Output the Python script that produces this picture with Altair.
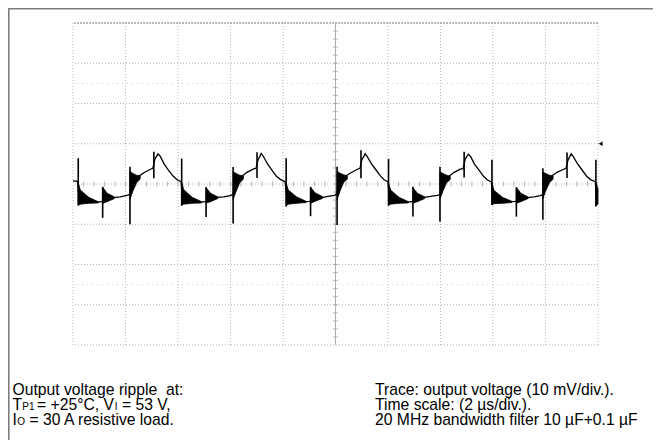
import altair as alt
import pandas as pd

# ---------------- data (time in µs, voltage in mV) ----------------
trace_t = [0.00, 0.10, 0.18,
           0.22, 0.50, 0.75, 0.90, 1.10, 1.30, 1.55, 1.80, 2.05, 2.16, 2.20, 2.35, 2.50, 2.70, 2.93, 3.04, 3.12, 3.24, 3.32, 3.47, 3.64, 3.82, 3.98, 4.12,
           4.16, 4.44, 4.69, 4.84, 5.04, 5.24, 5.49, 5.74, 5.99, 6.09, 6.13, 6.28, 6.43, 6.63, 6.86, 6.97, 7.05, 7.17, 7.25, 7.40, 7.57, 7.75, 7.91, 8.08,
           8.14, 8.42, 8.67, 8.82, 9.02, 9.22, 9.47, 9.72, 9.95, 10.05, 10.09, 10.24, 10.39, 10.59, 10.82, 10.93, 11.01, 11.13, 11.21, 11.36, 11.53, 11.71, 11.86, 12.00,
           12.04, 12.32, 12.57, 12.72, 12.92, 13.12, 13.37, 13.62, 13.88, 13.98, 14.02, 14.17, 14.32, 14.52, 14.75, 14.86, 14.94, 15.06, 15.14, 15.29, 15.46, 15.64, 15.79, 15.94,
           15.98, 16.26, 16.51, 16.66, 16.86, 17.06, 17.31, 17.56, 17.80, 17.90, 17.94, 18.09, 18.24, 18.44, 18.67, 18.78, 18.86, 18.98, 19.06, 19.21, 19.38, 19.56, 19.71, 19.90,
           19.94, 20.00]
trace_v = [0.8, 0.7, 0.6,
           -3.0, -3.6, -4.2, -4.5, -4.4, -3.6, -3.4, -3.2, -2.8, -2.6, -1.5, 1.2, 1.9, 2.8, 3.6, 3.9, 6.2, 7.5, 6.9, 5.0, 3.4, 1.9, 1.0, 0.6,
           -3.0, -3.7, -4.1, -4.5, -4.4, -3.5, -3.3, -3.2, -2.9, -2.6, -1.6, 1.1, 1.9, 2.9, 3.7, 3.9, 6.0, 7.6, 6.9, 5.1, 3.5, 1.9, 1.1, 0.6,
           -3.1, -3.6, -4.2, -4.4, -4.3, -3.6, -3.4, -3.1, -2.8, -2.5, -1.4, 1.2, 2.0, 2.8, 3.6, 3.9, 6.1, 7.5, 6.8, 5.1, 3.6, 2.0, 1.0, 0.6,
           -3.0, -3.7, -4.2, -4.5, -4.4, -3.5, -3.3, -3.1, -2.8, -2.6, -1.5, 1.1, 1.9, 2.9, 3.7, 3.8, 6.2, 7.4, 6.9, 5.0, 3.5, 1.9, 1.0, 0.5,
           -3.1, -3.6, -4.1, -4.4, -4.3, -3.6, -3.4, -3.2, -2.9, -2.6, -1.5, 1.2, 2.0, 2.9, 3.6, 3.9, 6.0, 7.5, 6.8, 5.1, 3.6, 2.0, 1.1, 0.6,
           -3.0, -3.2]

# switching spikes: time, lowest and highest excursion
spike_t = [0.20, 1.13, 2.17, 3.08, 4.14, 5.07, 6.10, 7.01, 8.12, 9.05, 10.06, 10.97,
           12.02, 12.95, 13.98, 14.90, 15.96, 16.89, 17.90, 18.82, 19.92]
spike_lo = [-5.3, -8.4, -10.0, 1.4, -5.4, -8.2, -9.8, 1.5, -5.6, -8.0, -10.2, 1.4,
            -5.4, -8.1, -9.4, 1.6, -5.2, -8.1, -8.9, 1.5, -5.6]
spike_hi = [6.4, -0.7, 4.3, 8.0, 6.3, -0.8, 4.2, 7.9, 6.4, -0.7, 4.3, 8.4,
            6.2, -0.7, 4.3, 8.0, 6.0, -0.8, 3.9, 7.8, 6.0]

# ringing bursts (filled envelopes)
burst_id = [1, 1, 1, 1, 2, 2, 2, 3, 3, 3, 3,
            4, 4, 4, 4, 5, 5, 5, 6, 6, 6, 6,
            7, 7, 7, 7, 8, 8, 8, 9, 9, 9, 9,
            10, 10, 10, 10, 11, 11, 11, 12, 12, 12, 12,
            13, 13, 13, 13, 14, 14, 14, 15, 15, 15, 15,
            16, 16]
burst_t = [0.20, 0.28, 0.60, 0.96, 1.13, 1.30, 1.58, 2.17, 2.28, 2.42, 2.56,
           4.14, 4.22, 4.54, 4.90, 5.07, 5.24, 5.52, 6.10, 6.21, 6.35, 6.49,
           8.12, 8.20, 8.52, 8.88, 9.05, 9.22, 9.50, 10.06, 10.17, 10.31, 10.45,
           12.02, 12.10, 12.42, 12.78, 12.95, 13.12, 13.40, 13.98, 14.09, 14.23, 14.37,
           15.96, 16.04, 16.36, 16.72, 16.89, 17.06, 17.34, 17.90, 18.01, 18.15, 18.29,
           19.92, 20.00]
burst_lo = [-5.3, -5.0, -4.8, -4.7, -4.8, -4.4, -3.6, -3.8, -1.8, 0.3, 1.2,
            -5.2, -5.0, -4.8, -4.7, -4.7, -4.4, -3.6, -3.8, -1.9, 0.3, 1.2,
            -5.4, -5.0, -4.8, -4.6, -4.8, -4.3, -3.6, -3.9, -1.8, 0.4, 1.2,
            -5.2, -5.0, -4.8, -4.7, -4.7, -4.4, -3.6, -3.7, -1.8, 0.3, 1.1,
            -5.2, -4.9, -4.8, -4.6, -4.8, -4.4, -3.6, -3.6, -1.7, 0.3, 1.2,
            -5.4, -5.0]
burst_hi = [0.3, -1.5, -3.3, -4.4, -0.8, -2.3, -3.2, 3.2, 2.6, 2.2, 2.0,
            0.4, -1.4, -3.3, -4.4, -0.9, -2.3, -3.2, 3.1, 2.6, 2.2, 2.0,
            0.3, -1.5, -3.2, -4.3, -0.8, -2.2, -3.1, 3.2, 2.7, 2.3, 2.0,
            0.3, -1.5, -3.3, -4.4, -0.9, -2.3, -3.2, 3.1, 2.6, 2.2, 1.9,
            0.2, -1.6, -3.3, -4.3, -0.8, -2.3, -3.2, 3.0, 2.6, 2.2, 2.0,
            0.4, -1.2]

# graticule: 10 x 2 µs, 8 x 10 mV
grid_t = [0, 2, 4, 6, 8, 10, 12, 14, 16, 18, 20]
grid_v = [-40, -30, -20, -10, 0, 10, 20, 30, 40]
marker_v = [-25, 25]
trigger_level = [10]

caption_left = ["Output voltage ripple\u00a0 at:"]
caption_right = ["Trace: output voltage (10 mV/div.).",
                 "Time scale: (2 µs/div.).",
                 "20 MHz bandwidth filter 10 µF+0.1 µF"]

# ---------------- chart ----------------
XS = alt.Scale(domain=[0, 20], nice=False, zero=False)
YS = alt.Scale(domain=[-40, 40], nice=False, zero=False)
FONT = "Liberation Sans"
FS = 15.7
SUB = 10

def X(f="t"):
    return alt.X(f"{f}:Q", scale=XS, axis=None)

def Y(f="v"):
    return alt.Y(f"{f}:Q", scale=YS, axis=None)

one = alt.Data(values=[{}])

vgrid = alt.Chart(pd.DataFrame({"t": grid_t})).mark_rule(
    color="#b5b5b5", strokeWidth=1, strokeDash=[1, 2]).encode(x=X())
hgrid = alt.Chart(pd.DataFrame({"v": grid_v})).mark_rule(
    color="#b5b5b5", strokeWidth=1, strokeDash=[1, 2]).encode(y=Y())
topline = alt.Chart(pd.DataFrame({"v": [grid_v[-1]]})).mark_rule(
    color="#8a8a8a", strokeWidth=1.2, strokeDash=[2, 1]).encode(y=Y())
centerv = alt.Chart(pd.DataFrame({"t": [grid_t[5]]})).mark_rule(
    color="#b0b0b0", strokeWidth=1).encode(x=X())
markers = alt.Chart(pd.DataFrame({"v": marker_v})).mark_rule(
    color="#d0d0d0", strokeWidth=1, strokeDash=[1, 4]).encode(y=Y())

tick_x = pd.DataFrame({"t": [i * 0.4 for i in range(1, 50)]})
minor_x = alt.Chart(tick_x).mark_tick(
    color="#a0a0a0", orient="vertical", size=5, thickness=1).encode(x=X(), y=alt.value(161))
tick_y = pd.DataFrame({"v": [j * 2 for j in range(-19, 20)]})
minor_y = alt.Chart(tick_y).mark_tick(
    color="#a0a0a0", orient="horizontal", size=5, thickness=1).encode(y=Y(), x=alt.value(262.5))

bursts = alt.Chart(pd.DataFrame({"id": burst_id, "t": burst_t, "lo": burst_lo, "hi": burst_hi})).mark_area(
    color="black", opacity=1, stroke="black", strokeWidth=0.8).encode(
    x=X(), y=Y("lo"), y2="hi:Q", detail="id:N")
spikes = alt.Chart(pd.DataFrame({"t": spike_t, "lo": spike_lo, "hi": spike_hi})).mark_rule(
    color="black", strokeWidth=1.6).encode(x=X(), y=Y("lo"), y2="hi:Q")
trace = alt.Chart(pd.DataFrame({"t": trace_t, "v": trace_v})).mark_line(
    color="black", strokeWidth=1.3).encode(x=X(), y=Y())
trig = alt.Chart(pd.DataFrame({"t": [20.1], "v": trigger_level})).mark_point(
    shape="triangle-left", filled=True, color="black", size=22, opacity=1).encode(x=X(), y=Y())

frame_left = alt.Chart(one).mark_rule(color="#7d7d7d", strokeWidth=1.6).encode(
    x=alt.value(-64.2), y=alt.value(-14.2), y2=alt.value(420))
frame_top = alt.Chart(one).mark_rule(color="#7d7d7d", strokeWidth=1.6).encode(
    x=alt.value(-65), x2=alt.value(580), y=alt.value(-14.2))

def txt(s, x, y, size=FS):
    return alt.Chart(one).mark_text(
        text=s, align="left", baseline="alphabetic", font=FONT, fontSize=size, color="black"
    ).encode(x=alt.value(x), y=alt.value(y))

LX = -60.5
RX = 302
B1, B2, B3 = 372, 387, 402
texts = [
    txt(caption_left[0], LX, B1),
    txt("T", LX, B2), txt("P1", LX + 9.8, B2, SUB), txt("= +25°C, V", LX + 24.5, B2),
    txt("I", LX + 102.3, B2, SUB), txt("= 53 V,", LX + 109.5, B2),
    txt("I", LX, B3), txt("O", LX + 4.7, B3, SUB), txt("= 30 A resistive load.", LX + 17, B3),
    txt(caption_right[0], RX, B1),
    txt(caption_right[1], RX, B2),
    txt(caption_right[2], RX, B3),
]

chart = alt.layer(
    markers, vgrid, hgrid, centerv, topline, minor_x, minor_y,
    bursts, spikes, trace, trig, frame_left, frame_top, *texts
).properties(
    width=525, height=322,
    autosize=alt.AutoSizeParams(type="none"),
    padding={"left": 65, "top": 15, "right": 55, "bottom": 95},
).configure_view(stroke=None)

chart.save("out.html", embed_options={"renderer": "svg", "actions": False})
